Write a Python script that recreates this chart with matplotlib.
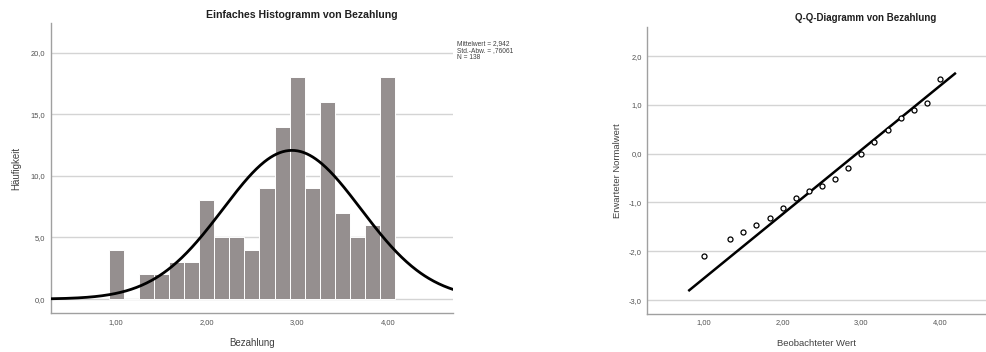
import numpy as np
import matplotlib
matplotlib.use("Agg")
import matplotlib.pyplot as plt
from matplotlib.ticker import FuncFormatter

plt.rcParams['font.family'] = ['Liberation Sans', 'DejaVu Sans']

# Histogram data: payment score (mean of six items) and frequency per value
bin_centers = [1.0, 7/6, 4/3, 1.5, 5/3, 11/6, 2.0, 13/6, 7/3, 2.5, 8/3, 17/6,
               3.0, 19/6, 10/3, 3.5, 11/3, 23/6, 4.0]
counts = [4, 0, 2, 2, 3, 3, 8, 5, 5, 4, 9, 14, 18, 9, 16, 7, 5, 6, 18]
bin_width = 1/6

# Descriptive statistics
mean_val = 2.942
sd_val = 0.76061
n_val = 138

# Q-Q plot: observed values and expected normal values
qq_observed = [1.0, 4/3, 1.5, 5/3, 11/6, 2.0, 13/6, 7/3, 2.5, 8/3, 17/6,
               3.0, 19/6, 10/3, 3.5, 11/3, 23/6, 4.0]
qq_expected = [-2.10, -1.75, -1.60, -1.455, -1.31, -1.107, -0.908, -0.77,
               -0.668, -0.525, -0.30, -0.01, 0.246, 0.486, 0.738, 0.889,
               1.045, 1.524]
qq_line_x = [0.813, 4.19]

hist_xticks = [1, 2, 3, 4]
hist_yticks = [0, 5, 10, 15, 20]
qq_yticks = [-3, -2, -1, 0, 1, 2]

grid_col = '#d4d4d4'
spine_col = '#a0a0a0'
tick_col = '#505050'
bar_col = '#958f8f'

fig = plt.figure(figsize=(9.86, 3.52), dpi=100)

def comma2(v, pos=None):
    return f"{v:.2f}".replace('.', ',')

def comma1(v, pos=None):
    return f"{v:.1f}".replace('.', ',')

def style_axes(ax):
    for s in ['top', 'right']:
        ax.spines[s].set_visible(False)
    for s in ['left', 'bottom']:
        ax.spines[s].set_color(spine_col)
        ax.spines[s].set_linewidth(1.0)
    ax.tick_params(length=0, labelsize=5.4, colors=tick_col, pad=4)
    ax.set_axisbelow(True)

# ---- Histogram ----
ax1 = fig.add_axes([0.0514, 0.1108, 0.408, 0.8239])
ax1.set_xlim(0.278, 4.72)
ax1.set_ylim(-1.13, 22.4)
for yv in hist_yticks:
    ax1.axhline(yv, color=grid_col, lw=1.0, zorder=0)
ax1.bar(bin_centers, counts, width=bin_width, color=bar_col,
        edgecolor='white', linewidth=0.7, zorder=2)
xs = np.linspace(0.278, 4.72, 400)
curve = n_val * bin_width / (sd_val * np.sqrt(2 * np.pi)) * np.exp(-0.5 * ((xs - mean_val) / sd_val) ** 2)
ax1.plot(xs, curve, color='black', lw=2.0, zorder=3)
ax1.set_xticks(hist_xticks)
ax1.xaxis.set_major_formatter(FuncFormatter(comma2))
ax1.set_yticks(hist_yticks)
ax1.yaxis.set_major_formatter(FuncFormatter(comma1))
style_axes(ax1)
ax1.set_xlabel('Bezahlung', fontsize=7, color='#404040', labelpad=9)
ax1.set_ylabel('Häufigkeit', fontsize=7, color='#404040', labelpad=7)
fig.text(0.306, 0.957, 'Einfaches Histogramm von Bezahlung', fontsize=7.6,
         fontweight='bold', ha='center', va='center', color='#202020')
stats = (f"Mittelwert = {mean_val:.3f}".replace('.', ',') + "\n"
         + "Std.-Abw. = " + f"{sd_val:.5f}".replace('0.', ',') + "\n"
         + f"N = {n_val}")
fig.text(0.4635, 0.885, stats, fontsize=4.8, ha='left', va='top',
         color='#404040', linespacing=1.0)

# ---- Q-Q plot ----
ax2 = fig.add_axes([0.6565, 0.108, 0.3435, 0.8153])
ax2.set_xlim(0.28, 4.585)
ax2.set_ylim(-3.285, 2.596)
for yv in qq_yticks:
    ax2.axhline(yv, color=grid_col, lw=1.0, zorder=0)
line_x = np.array(qq_line_x)
ax2.plot(line_x, (line_x - mean_val) / sd_val, color='black', lw=1.8, zorder=2)
ax2.plot(qq_observed, qq_expected, linestyle='none', marker='o', ms=3.6,
         mfc='white', mec='black', mew=0.9, zorder=3)
ax2.set_xticks(hist_xticks)
ax2.xaxis.set_major_formatter(FuncFormatter(comma2))
ax2.set_yticks(qq_yticks)
ax2.yaxis.set_major_formatter(FuncFormatter(comma1))
style_axes(ax2)
ax2.set_xlabel('Beobachteter Wert', fontsize=6.8, color='#404040', labelpad=9)
ax2.set_ylabel('Erwarteter Normalwert', fontsize=6.8, color='#404040', labelpad=5)
fig.text(0.878, 0.948, 'Q-Q-Diagramm von Bezahlung', fontsize=7.0,
         fontweight='bold', ha='center', va='center', color='#202020')

fig.savefig('out.png', dpi=100)
